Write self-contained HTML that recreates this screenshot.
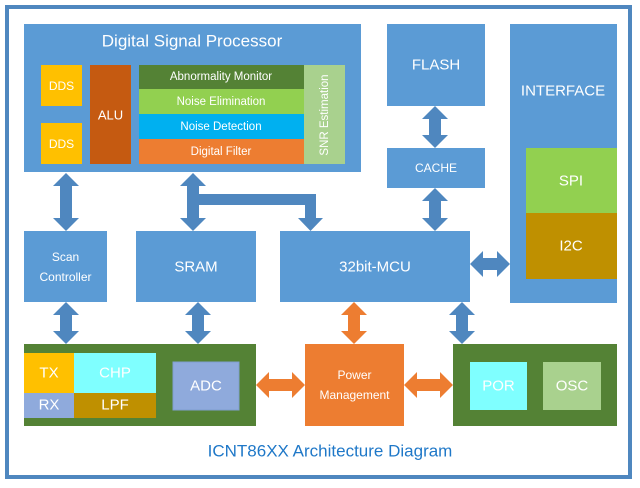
<!DOCTYPE html>
<html><head><style>
body{margin:0;width:640px;height:483px;background:#fff;overflow:hidden}
svg text{font-family:"Liberation Sans",sans-serif;fill:#fff;text-anchor:middle;dominant-baseline:central}
</style></head><body>
<svg width="640" height="483" viewBox="0 0 640 483">
<rect x="7" y="7" width="623" height="470" fill="none" stroke="#4f87bf" stroke-width="4"/>
<!-- DSP -->
<rect x="24" y="24" width="337" height="148" fill="#5b9bd5"/>
<text x="192" y="41" font-size="17">Digital Signal Processor</text>
<rect x="41" y="65" width="41" height="41" fill="#ffc000"/><text x="61.5" y="86" font-size="12">DDS</text>
<rect x="41" y="123" width="41" height="41" fill="#ffc000"/><text x="61.5" y="144" font-size="12">DDS</text>
<rect x="90" y="65" width="41" height="99" fill="#c55a11"/><text x="110.5" y="115" font-size="13">ALU</text>
<rect x="139" y="65" width="165" height="24" fill="#548235"/><text x="221" y="77" font-size="11.5">Abnormality Monitor</text>
<rect x="139" y="89" width="165" height="25" fill="#92d050"/><text x="221" y="102" font-size="11.5">Noise Elimination</text>
<rect x="139" y="114" width="165" height="25" fill="#00b0f0"/><text x="221" y="127" font-size="11.5">Noise Detection</text>
<rect x="139" y="139" width="165" height="25" fill="#ed7d31"/><text x="221" y="152" font-size="11.5">Digital Filter</text>
<rect x="304" y="65" width="41" height="99" fill="#a9d18e"/><text x="325" y="115" font-size="11.5" transform="rotate(-90 325 115)">SNR Estimation</text>
<!-- right column -->
<rect x="387" y="24" width="98" height="82" fill="#5b9bd5"/><text x="436" y="65" font-size="15">FLASH</text>
<rect x="387" y="148" width="98" height="40" fill="#5b9bd5"/><text x="436" y="168" font-size="12">CACHE</text>
<rect x="510" y="24" width="107" height="279" fill="#5b9bd5"/><text x="563" y="91" font-size="15">INTERFACE</text>
<rect x="526" y="148" width="91" height="65" fill="#92d050"/><text x="571" y="181" font-size="15">SPI</text>
<rect x="526" y="213" width="91" height="66" fill="#bf9000"/><text x="571" y="246" font-size="15">I2C</text>
<!-- middle row -->
<rect x="24" y="231" width="83" height="71" fill="#5b9bd5"/><text x="65.5" y="257" font-size="12">Scan</text><text x="65.5" y="277" font-size="12">Controller</text>
<rect x="136" y="231" width="120" height="71" fill="#5b9bd5"/><text x="196" y="267" font-size="15">SRAM</text>
<rect x="280" y="231" width="190" height="71" fill="#5b9bd5"/><text x="375" y="267" font-size="15">32bit-MCU</text>
<!-- bottom -->
<rect x="24" y="344" width="232" height="82" fill="#548235"/>
<rect x="24" y="353" width="50" height="40" fill="#ffc000"/><text x="49" y="373" font-size="15">TX</text>
<rect x="74" y="353" width="82" height="40" fill="#7fffff"/><text x="115" y="373" font-size="15">CHP</text>
<rect x="24" y="393" width="50" height="25" fill="#8faadc"/><text x="49" y="405" font-size="15">RX</text>
<rect x="74" y="393" width="82" height="25" fill="#bf9000"/><text x="115" y="405" font-size="15">LPF</text>
<rect x="173" y="362" width="66" height="48" fill="#8faadc" stroke="#7f9fd0"/><text x="206" y="386" font-size="15">ADC</text>
<rect x="305" y="344" width="99" height="82" fill="#ed7d31"/><text x="354.5" y="375" font-size="12">Power</text><text x="354.5" y="395" font-size="12">Management</text>
<rect x="453" y="344" width="164" height="82" fill="#548235"/>
<rect x="470" y="362" width="57" height="48" fill="#7fffff"/><text x="498.5" y="386" font-size="15">POR</text>
<rect x="543" y="362" width="58" height="48" fill="#a9d18e"/><text x="572" y="386" font-size="15">OSC</text>
<text x="330" y="451" font-size="17" style="fill:#1f78c8">ICNT86XX Architecture Diagram</text>
<!-- arrows -->
<g fill="#4f87bf">
<polygon points="66,173 79,186 72,186 72,218 79,218 66,231 53,218 60,218 60,186 53,186"/>
<polygon points="193,173 206,186 199,186 199,218 206,218 193,231 180,218 187,218 187,186 180,186"/>
<rect x="193" y="194" width="123" height="11"/>
<polygon points="305,203 316,203 316,218 323,218 310.5,231 298,218 305,218"/>
<polygon points="435,106 448,119 441,119 441,135 448,135 435,148 422,135 429,135 429,119 422,119"/>
<polygon points="435,188 448,201 441,201 441,218 448,218 435,231 422,218 429,218 429,201 422,201"/>
<polygon points="470,264 483,251 483,258 497,258 497,251 510,264 497,277 497,270 483,270 483,277"/>
<polygon points="66,302 79,315 72,315 72,331 79,331 66,344 53,331 60,331 60,315 53,315"/>
<polygon points="198,302 211,315 204,315 204,331 211,331 198,344 185,331 192,331 192,315 185,315"/>
<polygon points="462,302 475,315 468,315 468,331 475,331 462,344 449,331 456,331 456,315 449,315"/>
</g>
<g fill="#ed7d31">
<polygon points="354,302 367,315 360,315 360,331 367,331 354,344 341,331 348,331 348,315 341,315"/>
<polygon points="256,385 269,372 269,379 292,379 292,372 305,385 292,398 292,391 269,391 269,398"/>
<polygon points="404,385 417,372 417,379 440,379 440,372 453,385 440,398 440,391 417,391 417,398"/>
</g>
</svg>
</body></html>
